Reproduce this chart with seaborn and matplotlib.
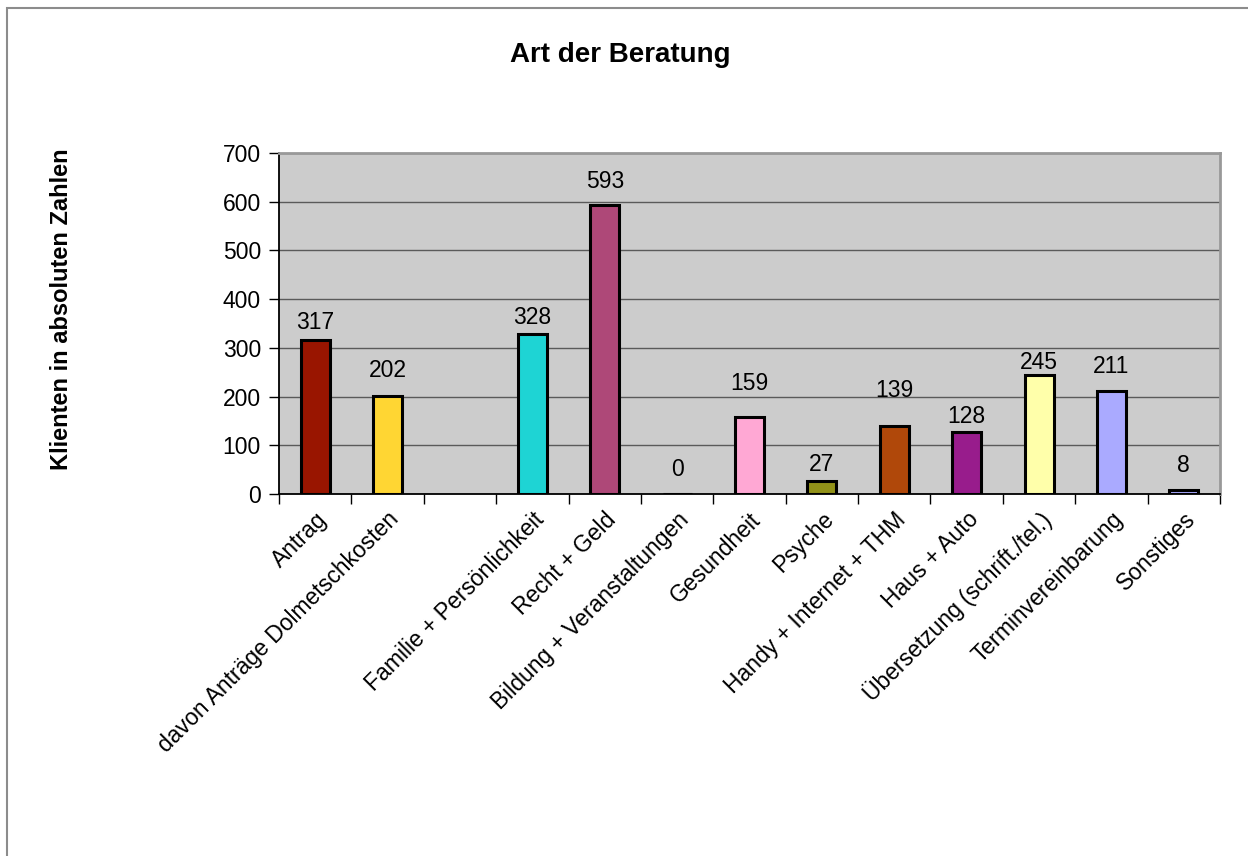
import numpy as np
import pandas as pd
import matplotlib
matplotlib.use("Agg")
import matplotlib.pyplot as plt
from matplotlib.patches import Rectangle
from matplotlib.ticker import FixedLocator
from matplotlib.transforms import ScaledTranslation
import seaborn as sns

# Consultation topics (one empty slot separates the application block)
categories = [
    "Antrag",
    "davon Anträge Dolmetschkosten",
    "",
    "Familie + Persönlichkeit",
    "Recht + Geld",
    "Bildung + Veranstaltungen",
    "Gesundheit",
    "Psyche",
    "Handy + Internet + THM",
    "Haus + Auto",
    "Übersetzung (schrift./tel.)",
    "Terminvereinbarung",
    "Sonstiges",
]
values = [317, 202, np.nan, 328, 593, 0, 159, 27, 139, 128, 245, 211, 8]
bar_colors = [
    "#991500", "#FFD633", "#CCCCCC", "#1ED4D4", "#AE4878", "#6E6EC8",
    "#FFA8D4", "#929219", "#B0480A", "#981C8C", "#FFFFAA", "#AAAAFF", "#A8A8FF",
]
y_ticks = [0, 100, 200, 300, 400, 500, 600, 700]

# vertical lift of each value label above its bar, in points
label_lift = [12, 18, 0, 12, 17, 18, 24, 12, 26, 11, 9, 18, 18]

title = "Art der Beratung"
y_title = "Klienten in absoluten Zahlen"

sns.set_theme(style="white")
plt.rcParams["font.family"] = ["Liberation Sans", "DejaVu Sans"]
plt.rcParams.update({
    "text.color": "black",
    "axes.labelcolor": "black",
    "xtick.color": "black",
    "ytick.color": "black",
})

fig = plt.figure(figsize=(12.48, 8.56), dpi=100)
ax = fig.add_axes([279 / 1248, 1 - 494 / 856, 941 / 1248, 341 / 856])

df = pd.DataFrame({"topic": categories, "count": values})
palette = dict(zip(categories, bar_colors))
sns.barplot(
    data=df.dropna(), x="topic", y="count", hue="topic", order=categories,
    hue_order=categories, palette=palette, width=0.4, legend=False,
    edgecolor="black", linewidth=2.2, saturation=1, ax=ax,
)

ax.set_facecolor("#CCCCCC")
ax.set_xlim(-0.5, len(categories) - 0.5)
ax.set_ylim(y_ticks[0], y_ticks[-1])
ax.set_yticks(y_ticks)
ax.set_yticklabels([str(t) for t in y_ticks], fontsize=16.5)
ax.yaxis.grid(True, color="#5A5A5A", linewidth=1.0)
ax.set_axisbelow(True)

ax.set_xticks(range(len(categories)))
ax.set_xticklabels(categories, rotation=45, ha="right", va="top",
                   rotation_mode="anchor", fontsize=16.5)
shift = ScaledTranslation(-4 / 100, -6 / 100, fig.dpi_scale_trans)
for lbl in ax.get_xticklabels():
    lbl.set_transform(lbl.get_transform() + shift)
ax.xaxis.set_minor_locator(FixedLocator(np.arange(-0.5, len(categories), 1.0)))
ax.tick_params(axis="x", which="major", length=0, pad=10)
ax.tick_params(axis="x", which="minor", length=7, width=1, color="black",
               direction="out", bottom=True)
ax.tick_params(axis="y", length=7, width=1, color="black", direction="out",
               left=True, pad=6)
ax.set_xlabel("")
ax.set_ylabel("")

for side in ("top", "right"):
    ax.spines[side].set_color("#999999")
    ax.spines[side].set_linewidth(2)
for side in ("left", "bottom"):
    ax.spines[side].set_color("black")
    ax.spines[side].set_linewidth(1.3)
ax.spines["top"].set_zorder(5)

for i, (v, lift) in enumerate(zip(values, label_lift)):
    if np.isnan(v):
        continue
    ax.annotate(f"{int(v)}", xy=(i, v), xytext=(0, lift), textcoords="offset points",
                ha="center", va="center", fontsize=16.5, color="black")

fig.text(620 / 1248, 1 - 55 / 856, title, ha="center", va="center",
         fontsize=20, fontweight="bold")
fig.text(62 / 1248, 1 - 309 / 856, y_title, ha="center", va="center",
         rotation=90, fontsize=17, fontweight="bold")

# outer chart frame
fig.patches.append(Rectangle((7 / 1248, -0.05), 1.1, 1 - 8 / 856 + 0.05,
                             transform=fig.transFigure, fill=False,
                             edgecolor="#8C8C8C", linewidth=1.5))

fig.savefig("out.png", dpi=100, facecolor="white")
